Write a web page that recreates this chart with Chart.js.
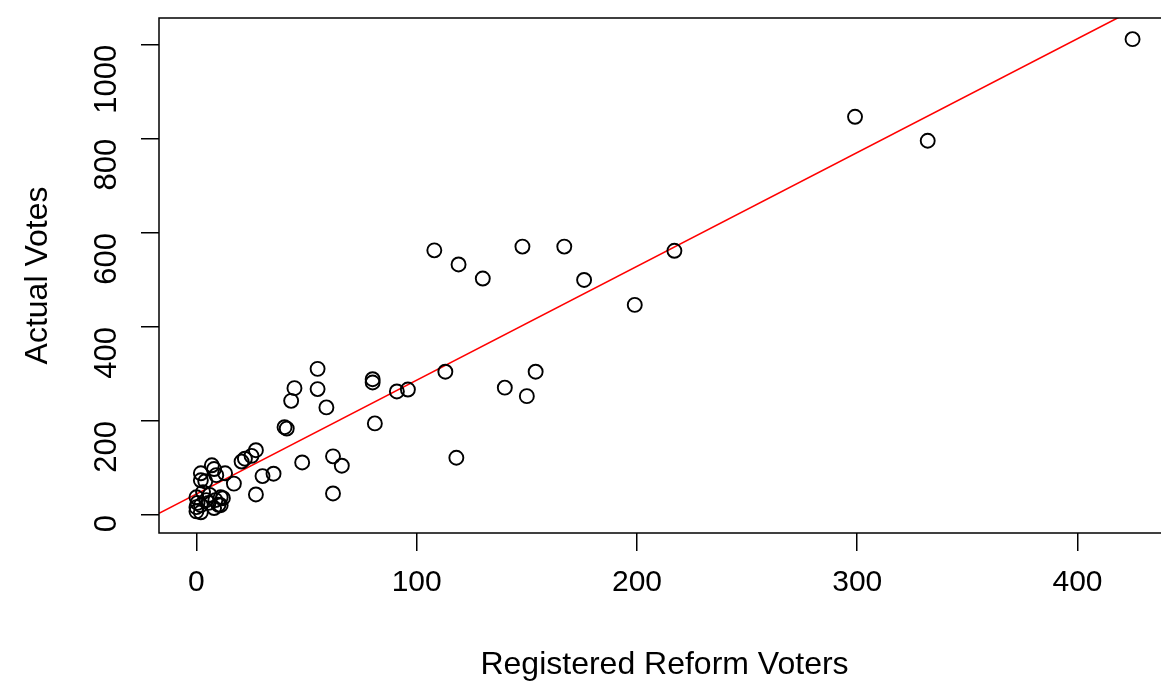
<!DOCTYPE html>
<html>
<head>
<meta charset="utf-8">
<script src="https://cdn.jsdelivr.net/npm/chart.js@4"></script>
<style>
  html, body { margin: 0; padding: 0; background: #fff; overflow: hidden; }
  #clip { width: 1161px; height: 681px; overflow: hidden; position: relative; }
  #chart { display: block; position: absolute; left: 0; top: 0; }
</style>
</head>
<body>
<div id="clip"><canvas id="chart" width="1170" height="681"></canvas></div>
<script>
// Registered reform voters vs actual votes
const registered = [
  425, 299, 332, 217, 199, 176, 167, 148, 130, 119, 108, 113, 140, 150, 154, 118,
  96, 91, 81, 80, 80, 55, 55, 59, 44.5, 43, 41, 40, 62, 66, 62, 48, 35, 30, 27, 27,
  25, 22, 20.5, 17, 13, 11, 10, 7, 8, 9, 2, 2, 4,
  0, 0.5, 0, 2, 3, 6, 8, 11, 12, 4.5, 2, 5.5, 8.6, 0
];
const votes = [
  1012, 847, 796, 562, 447, 500, 571, 571, 503, 533, 563, 305, 271, 253, 305, 122,
  267, 263, 195, 289, 282, 311, 268, 229, 270, 243, 184, 187, 125, 105, 46, 112, 88, 83, 44, 138,
  126, 120, 114, 67, 89, 38, 22, 106, 98, 85, 89, 74, 72,
  38, 26, 8, 6, 49, 43, 15, 21, 36, 32, 21, 26, 32, 17
];

// fitted line  votes = a + b * registered
const fitIntercept = 45;
const fitSlope = 2.42;

const xTicks = [0, 100, 200, 300, 400];
const yTicks = [0, 200, 400, 600, 800, 1000];

const xMin = -17, xMax = 442;
const yMin = -38, yMax = 1057;

const points = registered.map((x, i) => ({ x: x, y: votes[i] }));
const fitLine = [xMin, xMax].map(x => ({ x: x, y: fitIntercept + fitSlope * x }));

const FONT = "'Liberation Sans', Arial, Helvetica, sans-serif";

// box around the plot region
const boxPlugin = {
  id: "box",
  afterDraw(chart) {
    const a = chart.chartArea;
    const ctx = chart.ctx;
    ctx.save();
    ctx.strokeStyle = "#000";
    ctx.lineWidth = 1.5;
    ctx.strokeRect(a.left, a.top, a.right - a.left, a.bottom - a.top);
    ctx.restore();
  }
};

new Chart(document.getElementById("chart"), {
  type: "scatter",
  data: {
    datasets: [
      {
        data: points,
        showLine: false,
        pointStyle: "circle",
        pointRadius: 7,
        pointHoverRadius: 7,
        pointBorderWidth: 1.9,
        pointBorderColor: "#000",
        pointBackgroundColor: "rgba(0,0,0,0)"
      },
      {
        type: "line",
        data: fitLine,
        borderColor: "#ff0000",
        borderWidth: 1.6,
        pointRadius: 0,
        fill: false
      }
    ]
  },
  options: {
    responsive: false,
    animation: false,
    events: [],
    layout: { autoPadding: false, padding: { top: 18, left: 0, right: 0, bottom: 0 } },
    plugins: { legend: { display: false }, tooltip: { enabled: false } },
    scales: {
      x: {
        type: "linear",
        min: xMin,
        max: xMax,
        afterBuildTicks: s => { s.ticks = xTicks.map(v => ({ value: v })); },
        afterFit: s => { s.height = 148; s.paddingLeft = 0; s.paddingRight = 0; },
        border: { display: false },
        grid: { drawOnChartArea: false, drawTicks: true, tickLength: 18, color: "#000", lineWidth: 1.5 },
        ticks: { color: "#000", font: { family: FONT, size: 30 }, padding: 14, maxRotation: 0,
                 callback: v => String(v) },
        title: {
          display: true,
          text: "Registered Reform Voters",
          color: "#000",
          font: { family: FONT, size: 32 },
          padding: { top: 0, bottom: -3 }
        }
      },
      y: {
        type: "linear",
        min: yMin,
        max: yMax,
        afterBuildTicks: s => { s.ticks = yTicks.map(v => ({ value: v })); },
        afterFit: s => { s.width = 159; s.paddingTop = 0; s.paddingBottom = 0; },
        border: { display: false },
        grid: { drawOnChartArea: false, drawTicks: true, tickLength: 18, color: "#000", lineWidth: 1.5 },
        ticks: { color: "#000", font: { family: FONT, size: 31 }, padding: 34, minRotation: 90, maxRotation: 90,
                 callback: v => String(v) },
        title: {
          display: true,
          text: "Actual Votes",
          color: "#000",
          font: { family: FONT, size: 32 },
          padding: { top: 19, bottom: 0 }
        }
      }
    }
  },
  plugins: [boxPlugin]
});
</script>
</body>
</html>
